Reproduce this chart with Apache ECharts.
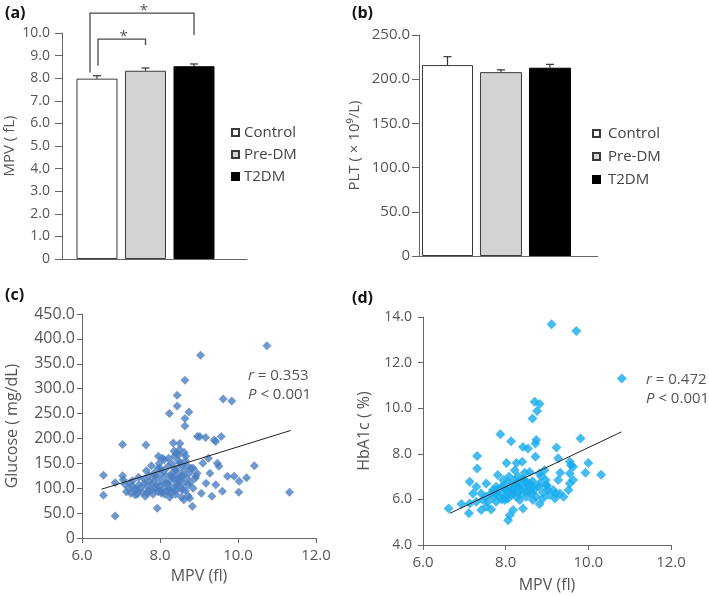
<!DOCTYPE html>
<html>
<head>
<meta charset="utf-8">
<script src="https://cdn.jsdelivr.net/npm/echarts@6/dist/echarts.min.js"></script>
<style>
  html, body { margin: 0; padding: 0; background: #fff; }
  #main { width: 709px; height: 596px; }
</style>
</head>
<body>
<div id="main"></div>
<script>
// ---- data ----
const groups = ["Control", "Pre-DM", "T2DM"];
const mpvMean = [7.98, 8.33, 8.53];
const mpvErr = [0.13, 0.12, 0.10];
const pltMean = [216, 208, 213];
const pltErr = [9.5, 2.6, 3.8];

// significance brackets on panel (a): [fromGroup, toGroup, leftLegY, topY, rightLegY]
const mpvBrackets = [
  [0, 2, 8.25, 10.88, 9.91],
  [0, 1, 8.55, 9.73, 9.47]
];

// (c) MPV vs glucose
const glucosePoints = [
  [6.55,126],[6.55,86],[6.85,44],[6.85,111],[7.04,188],[7.04,125],[7.06,117],[7.14,93],
  [7.23,111],[7.3,104],[7.36,87],[7.4,97],[7.46,107],[7.64,187],[7.62,84],[7.67,104],
  [7.74,114],[7.78,97],[7.87,124],[7.91,107],[7.96,164],[7.93,60],[8.0,140],[8.04,90],
  [8.11,157],[8.15,110],[8.21,144],[8.25,97],[8.3,124],[8.34,191],[8.37,164],[8.41,137],
  [8.43,110],[8.47,167],[8.51,190],[8.51,150],[8.55,124],[8.58,97],[8.61,77],[8.66,164],
  [8.72,107],[8.76,80],[8.83,64],[8.85,140],[8.92,124],[8.96,204],[9.02,204],[9.06,90],
  [9.1,150],[9.17,202],[9.18,110],[9.24,160],[9.28,130],[9.33,84],[9.39,197],[9.43,194],
  [9.47,150],[9.51,144],[9.57,204],[9.6,94],[9.43,107],[9.73,124],[9.9,124],[10.03,114],
  [10.02,92],[10.22,121],[10.42,145],[11.32,92],
  [10.74,386],[9.04,367],[8.64,317],[8.44,287],[8.44,265],[9.62,279],[9.84,275],
  [8.24,250],[8.74,253],[8.64,240],[8.64,225],
  [7.5,100],[7.55,92],[7.6,118],[7.7,95],[7.72,125],[7.8,110],[7.82,88],[7.85,130],
  [7.88,100],[7.9,120],[7.95,93],[7.98,150],[8.0,105],[8.02,128],[8.05,115],[8.08,98],
  [8.1,135],[8.12,88],[8.15,125],[8.18,95],[8.2,108],[8.22,160],[8.25,115],[8.28,90],
  [8.3,150],[8.32,100],[8.35,120],[8.38,140],[8.4,95],[8.42,170],[8.44,105],[8.45,130],
  [8.48,155],[8.5,115],[8.52,100],[8.55,145],[8.58,125],[8.6,110],[8.62,135],[8.65,95],
  [8.68,120],[8.7,145],[8.72,85],[8.75,130],[8.78,112],[8.8,140],[8.85,100],[8.9,120],
  [8.95,130],[7.3,115],[7.35,98],[7.45,122],[7.2,100],[7.1,108],[7.25,90],[7.42,88],
  [7.65,135],[7.78,145],[8.06,160],[8.36,175],[8.5,178],[8.62,172],[8.4,88],[8.25,82],
  [8.55,82],[7.95,140],[7.6,110],[7.68,90],[8.3,130],[8.45,118],[8.65,155],[8.0,95]
];
const glucoseTrend = [[6.5, 98], [11.35, 216]];

// (d) MPV vs HbA1c
const hba1cPoints = [
  [9.11,13.68],[9.71,13.39],[10.81,11.3],[8.7,10.28],[8.82,10.18],[8.76,9.88],[8.65,9.55],
  [7.87,8.86],[8.13,8.55],[9.81,8.67],[8.74,8.6],[8.72,8.45],[8.42,8.3],[8.54,8.23],
  [9.23,8.28],[7.31,7.9],[8.72,7.87],[8.26,7.6],[8.02,7.6],[8.4,7.65],[10.0,7.6],
  [9.27,7.8],[9.55,7.65],[7.31,7.36],[8.22,7.28],[8.46,7.17],[9.32,7.17],[9.93,7.17],
  [10.31,7.08],[9.58,7.5],[9.63,7.43],[7.81,7.07],[7.53,6.7],[7.13,6.77],[8.86,7.02],
  [8.97,6.85],[8.06,6.77],[8.1,6.55],[8.26,6.55],[8.34,6.63],[8.46,6.85],[8.58,6.7],
  [8.66,6.55],[8.82,6.7],[8.98,6.63],[9.15,6.41],[9.21,6.26],[9.19,6.04],[9.4,6.12],
  [9.52,6.41],[9.55,6.7],[9.63,6.85],[8.9,6.04],[8.82,5.8],[8.42,5.6],[8.18,5.53],
  [8.1,5.31],[8.06,5.09],[7.69,6.41],[7.77,6.26],[7.85,6.12],[7.94,6.26],[7.98,5.97],
  [7.77,5.9],[7.65,5.56],[7.53,5.68],[7.41,5.53],[7.29,5.9],[7.21,6.26],[7.13,5.82],
  [6.93,5.8],[7.11,5.39],[6.62,5.6],[7.45,5.97],[7.53,6.12],[8.18,6.26],[8.26,6.12],
  [8.34,5.97],[8.5,6.12],[8.62,6.26],[8.5,6.34],[8.38,6.26],[8.06,6.04],[8.02,6.41],
  [8.14,6.41],[8.22,6.85],[8.3,7.0],[7.9,6.55],[7.65,6.26],[7.77,6.55],[7.94,6.85],
  [8.58,7.2],[8.66,5.97],[8.74,6.12],[9.02,6.41],[9.05,6.19],[9.31,6.26],[9.27,6.85],
  [9.55,7.14],[8.94,7.28],[8.82,7.14],[8.08,7.0],[7.29,6.55],[7.41,6.26],[7.57,5.9],
  [8.2,6.5],[8.3,6.3],[8.35,6.45],[8.45,6.5],[8.55,6.6],[8.6,6.35],[8.7,6.45],[8.0,6.1],
  [7.9,6.0],[7.8,6.4],[7.7,6.1],[8.25,6.7],[8.4,6.9],[8.15,6.2],[8.05,6.35],[7.95,6.55],
  [8.5,6.75],[8.65,6.8],[8.8,6.55],[8.9,6.3],[9.0,6.6]
];
const hba1cTrend = [[6.65, 5.39], [10.8, 8.96]];

// ---- chart ----
var chart = echarts.init(document.getElementById("main"), null, { renderer: "canvas" });

const FONT = '"Open Sans", sans-serif';
const TXT = "#555";
const AXC = "#666";

function fmt(v) {
  return v === 0 ? "0" : v.toFixed(1);
}

const barStyles = [
  { color: "#ffffff", borderColor: "#3a3a3a", borderWidth: 1 },
  { color: "#d3d3d3", borderColor: "#3a3a3a", borderWidth: 1 },
  { color: "#000000", borderColor: "#000000", borderWidth: 1 }
];

// bar slots on the hidden value x axis, and bar widths in px
const slotsA = [0, 1, 2];
const widthsA = [41, 41, 41];
const slotsB = [0.49, 1.673, 2.673];
const widthsB = [51, 42, 42];

function barSeries(idx, means, slots, widths) {
  return groups.map(function (g, i) {
    return {
      type: "bar",
      name: g,
      xAxisIndex: idx,
      yAxisIndex: idx,
      barWidth: widths[i],
      barGap: "-100%",
      itemStyle: barStyles[i],
      data: [[slots[i], means[i]]],
      silent: true,
      z: 2
    };
  });
}

function errSeries(idx, means, errs, slots, widths) {
  const last = widths[widths.length - 1];
  return {
    type: "custom",
    xAxisIndex: idx,
    yAxisIndex: idx,
    clip: false,
    silent: true,
    z: 3,
    data: means.map(function (m, i) { return [slots[i], m, m + errs[i], i]; }),
    renderItem: function (params, api) {
      const i = api.value(3);
      const base = api.coord([api.value(0), api.value(1)]);
      const top = api.coord([api.value(0), api.value(2)]);
      const x = base[0] - last / 2 + widths[i] / 2;
      const st = { stroke: "#333", lineWidth: 1.2 };
      return {
        type: "group",
        children: [
          { type: "line", shape: { x1: x, y1: base[1], x2: x, y2: top[1] }, style: st },
          { type: "line", shape: { x1: x - 4, y1: top[1], x2: x + 4, y2: top[1] }, style: st }
        ]
      };
    }
  };
}

// left leg offsets of the brackets, px
const bracketDx = [-7, 1];

const bracketSeries = {
  type: "custom",
  xAxisIndex: 0,
  yAxisIndex: 0,
  clip: false,
  silent: true,
  z: 4,
  data: mpvBrackets,
  renderItem: function (params, api) {
    const dx = bracketDx[params.dataIndex];
    const a = api.coord([slotsA[api.value(0)], api.value(2)]);
    const t1 = api.coord([slotsA[api.value(0)], api.value(3)]);
    const t2 = api.coord([slotsA[api.value(1)], api.value(3)]);
    const b = api.coord([slotsA[api.value(1)], api.value(4)]);
    const x1 = a[0] + dx;
    return {
      type: "group",
      children: [
        {
          type: "polyline",
          shape: { points: [[x1, a[1]], [x1, t1[1]], [t2[0], t2[1]], [b[0], b[1]]] },
          style: { stroke: "#4a4a4a", lineWidth: 1.3, fill: null }
        },
        {
          type: "text",
          style: {
            x: (x1 + t2[0]) / 2 + 2, y: t1[1] - 2, text: "*",
            align: "center", verticalAlign: "middle",
            font: "15px " + FONT, fill: TXT
          }
        }
      ]
    };
  }
};

function yAxis(idx, min, max, interval, name, gap, size, nameSize, margin, tick) {
  return {
    type: "value", gridIndex: idx, min: min, max: max, interval: interval,
    name: name, nameLocation: "middle", nameGap: gap, nameRotate: 90,
    nameTextStyle: { fontSize: nameSize, color: TXT, fontFamily: FONT },
    axisLine: { show: true, onZero: false, lineStyle: { color: AXC, width: 1 } },
    axisTick: { show: true, length: tick, lineStyle: { color: AXC } },
    axisLabel: { fontSize: size, color: TXT, fontFamily: FONT, margin: margin, formatter: fmt },
    splitLine: { show: false }
  };
}

option = {
  animation: false,
  backgroundColor: "#fff",
  grid: [
    { left: 62, top: 33, width: 185, height: 226 },
    { left: 419, top: 35, width: 179, height: 221 },
    { left: 82, top: 314, width: 234, height: 224 },
    { left: 423, top: 317, width: 248, height: 228 }
  ],
  xAxis: [
    {
      type: "value", gridIndex: 0, min: -0.7216, max: 3.093,
      axisLine: { show: true, onZero: false, lineStyle: { color: AXC } },
      axisTick: { show: false }, axisLabel: { show: false }, splitLine: { show: false }
    },
    {
      type: "value", gridIndex: 1, min: 0, max: 3.653,
      axisLine: { show: true, onZero: false, lineStyle: { color: AXC } },
      axisTick: { show: false }, axisLabel: { show: false }, splitLine: { show: false }
    },
    {
      type: "value", gridIndex: 2, min: 6, max: 12, interval: 2,
      name: "MPV (fl)", nameLocation: "middle", nameGap: 30,
      nameTextStyle: { fontSize: 16, color: TXT, fontFamily: FONT },
      axisLine: { show: true, onZero: false, lineStyle: { color: AXC } },
      axisTick: { show: true, length: 5, lineStyle: { color: AXC } },
      axisLabel: { fontSize: 15, color: TXT, fontFamily: FONT, margin: 10, formatter: fmt },
      splitLine: { show: false }
    },
    {
      type: "value", gridIndex: 3, min: 6, max: 12, interval: 2,
      name: "MPV (fl)", nameLocation: "middle", nameGap: 32,
      nameTextStyle: { fontSize: 16, color: TXT, fontFamily: FONT },
      axisLine: { show: true, onZero: false, lineStyle: { color: AXC } },
      axisTick: { show: true, length: 5, lineStyle: { color: AXC } },
      axisLabel: { fontSize: 15, color: TXT, fontFamily: FONT, margin: 10, formatter: fmt },
      splitLine: { show: false }
    }
  ],
  yAxis: [
    yAxis(0, 0, 10, 1, "MPV ( fL)", 45, 14, 15, 12, 7),
    yAxis(1, 0, 250, 50, "PLT ( \u00d7 10\u2079/L)", 57, 15, 15, 9, 7),
    yAxis(2, 0, 450, 50, "Glucose ( mg/dL)", 62, 16, 16, 7, 5),
    yAxis(3, 4, 14, 2, "HbA1c ( %)", 51, 14, 16, 11, 5)
  ],
  legend: [
    {
      data: groups, orient: "vertical", left: 226, top: 119,
      icon: "rect", itemWidth: 7, itemHeight: 7, itemGap: 5,
      selectedMode: false,
      textStyle: { fontSize: 15, color: "#444", fontFamily: FONT, lineHeight: 17 }
    },
    {
      data: groups, orient: "vertical", left: 587, top: 120,
      icon: "rect", itemWidth: 7, itemHeight: 7, itemGap: 6,
      selectedMode: false,
      textStyle: { fontSize: 15, color: "#444", fontFamily: FONT, lineHeight: 17, padding: [0, 0, 0, 3] }
    }
  ],
  graphic: [
    { type: "text", left: 5, top: 5, style: { text: "(a)", font: "bold 16px " + FONT, fill: "#111" } },
    { type: "text", left: 352, top: 5, style: { text: "(b)", font: "bold 16px " + FONT, fill: "#111" } },
    { type: "text", left: 5, top: 287, style: { text: "(c)", font: "bold 16px " + FONT, fill: "#111" } },
    { type: "text", left: 352, top: 290, style: { text: "(d)", font: "bold 16px " + FONT, fill: "#111" } },
    {
      type: "text", left: 248, top: 366,
      style: {
        text: "{i|r} = 0.353\n{i|P} < 0.001",
        font: "15px " + FONT, fill: TXT, lineHeight: 19,
        rich: { i: { fontStyle: "italic", fontSize: 15, fontFamily: FONT, fill: TXT, lineHeight: 19 } }
      }
    },
    {
      type: "text", left: 646, top: 370,
      style: {
        text: "{i|r} = 0.472\n{i|P} < 0.001",
        font: "15px " + FONT, fill: TXT, lineHeight: 19,
        rich: { i: { fontStyle: "italic", fontSize: 15, fontFamily: FONT, fill: TXT, lineHeight: 19 } }
      }
    }
  ],
  series: []
    .concat(barSeries(0, mpvMean, slotsA, widthsA))
    .concat([errSeries(0, mpvMean, mpvErr, slotsA, widthsA), bracketSeries])
    .concat(barSeries(1, pltMean, slotsB, widthsB))
    .concat([errSeries(1, pltMean, pltErr, slotsB, widthsB)])
    .concat([
      {
        type: "scatter", xAxisIndex: 2, yAxisIndex: 2, symbol: "diamond", symbolSize: 9,
        itemStyle: { color: "#4a7ec2" }, data: glucosePoints, silent: true, z: 2
      },
      {
        type: "line", xAxisIndex: 2, yAxisIndex: 2, data: glucoseTrend, showSymbol: false,
        lineStyle: { color: "#222", width: 1 }, silent: true, z: 3
      },
      {
        type: "scatter", xAxisIndex: 3, yAxisIndex: 3, symbol: "diamond", symbolSize: 10,
        itemStyle: { color: "#17abec" }, data: hba1cPoints, silent: true, z: 2
      },
      {
        type: "line", xAxisIndex: 3, yAxisIndex: 3, data: hba1cTrend, showSymbol: false,
        lineStyle: { color: "#222", width: 1 }, silent: true, z: 3
      }
    ])
};

if (option && typeof option === "object") {
  chart.setOption(option);
}

window.addEventListener("resize", chart.resize);
</script>
</body>
</html>
